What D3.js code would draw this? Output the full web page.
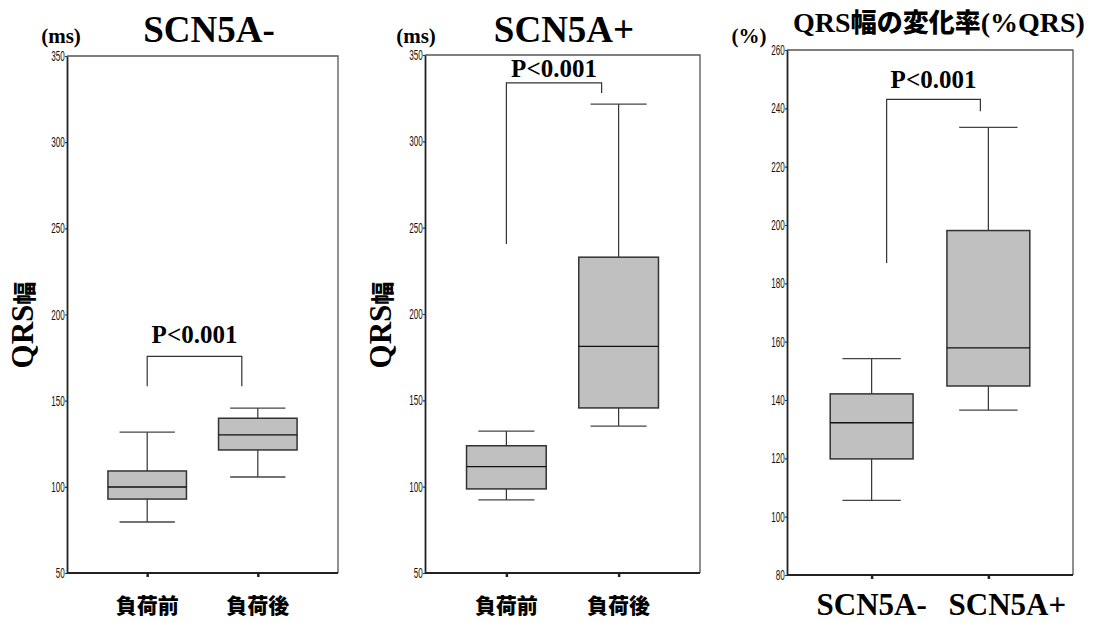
<!DOCTYPE html>
<html><head><meta charset="utf-8">
<script src="https://cdn.jsdelivr.net/npm/d3@7"></script>
<style>
html,body{margin:0;padding:0;background:#fff;}
svg{display:block;}
</style></head>
<body>
<svg id="chart" width="1098" height="623"></svg>
<script>
// ---------- data ----------
const loadCategories = ["負荷前", "負荷後"];
const geneCategories = ["SCN5A-", "SCN5A+"];
// five-number summaries: [lower whisker, Q1, median, Q3, upper whisker]
const qrsSCN5Aneg = [[79.6, 92.9, 99.9, 109.2, 131.8], [105.7, 121.4, 130.1, 139.8, 145.7]];
const qrsSCN5Apos = [[92.3, 98.7, 111.6, 123.7, 132.2], [135.1, 145.6, 181.3, 232.9, 321.6]];
const pctQRS      = [[105.6, 119.8, 132.2, 142.1, 154.2], [136.5, 144.8, 157.9, 198.1, 233.5]];
const msTicks  = [50, 100, 150, 200, 250, 300, 350];
const pctTicks = [80, 100, 120, 140, 160, 180, 200, 220, 240, 260];
// significance brackets: [bar value, left leg end value, right leg end value]
const bracketNeg = [175.7, 158.3, 158.3];
const bracketPos = [333.8, 240.6, 328.0];
const bracketPct = [243.1, 187.0, 239.0];
const pText = "P<0.001";

// ---------- layout ----------
const SERIF = "'Liberation Serif','Times New Roman',serif";
const CJK = "'Noto Sans CJK JP','Noto Sans CJK SC',sans-serif";
const SANS = "'Liberation Sans',Arial,sans-serif";

const panels = [
  { left: 67, right: 338, top: 56, bottom: 573, domain: [50, 350], ticks: msTicks,
    data: qrsSCN5Aneg, cats: loadCategories, catKind: "cjk",
    unit: "(ms)", unitX: 61, title: "SCN5A-", titleX: 209, ylabelX: 33,
    bracket: bracketNeg, bdxL: 0, bdxR: -16, pDy: -13 },
  { left: 425, right: 700, top: 55, bottom: 573, domain: [50, 350], ticks: msTicks,
    data: qrsSCN5Apos, cats: loadCategories, catKind: "cjk",
    unit: "(ms)", unitX: 416, title: "SCN5A+", titleX: 564, ylabelX: 391,
    bracket: bracketPos, bdxL: 0, bdxR: -17, pDy: -6 },
  { left: 787, right: 1073, top: 50, bottom: 575, domain: [80, 260], ticks: pctTicks,
    data: pctQRS, cats: geneCategories, catKind: "serif",
    unit: "(%)", unitX: 749, title: null, titleX: 939, ylabelX: null,
    bracket: bracketPct, bdxL: 15, bdxR: -8, pDy: -11 }
];

const svg = d3.select("#chart");

panels.forEach((p, pi) => {
  const g = svg.append("g");
  const x = d3.scalePoint().domain(p.cats).range([p.left, p.right]).padding(0.725);
  const y = d3.scaleLinear().domain(p.domain).range([p.bottom, p.top]);
  const step = x.step();
  const boxW = step * 0.71, capW = step * 0.5;

  // frame (top & right)
  g.append("path")
    .attr("d", `M${p.left},${p.top}H${p.right}V${p.bottom}`)
    .attr("fill", "none").attr("stroke", "#555").attr("stroke-width", 1.3);

  // y axis
  const ya = g.append("g").attr("transform", `translate(${p.left},0)`)
    .call(d3.axisLeft(y).tickValues(p.ticks).tickSizeInner(2).tickSizeOuter(0).tickPadding(2));
  ya.select(".domain").attr("stroke", "#222").attr("stroke-width", 1.8);
  ya.selectAll(".tick line").attr("stroke", "#333").attr("stroke-width", 1.2);
  ya.selectAll(".tick text").attr("font-family", SANS).attr("font-size", 14.5)
    .attr("fill", "#111").attr("transform", "scale(0.56,1)");

  // x axis
  const xa = g.append("g").attr("transform", `translate(0,${p.bottom})`)
    .call(d3.axisBottom(x).tickSizeInner(4).tickSizeOuter(0).tickFormat(""));
  xa.select(".domain").attr("stroke", "#222").attr("stroke-width", 1.8)
    .attr("d", `M${p.left},0H${p.right}`);
  xa.selectAll(".tick line").attr("stroke", "#222").attr("stroke-width", 2.5);

  // boxes
  const bx = g.selectAll("g.box").data(p.data).join("g").attr("class", "box");
  bx.each(function (d, i) {
    const s = d3.select(this);
    const cx = x(p.cats[i]);
    s.append("line").attr("x1", cx).attr("x2", cx).attr("y1", y(d[4])).attr("y2", y(d[3]))
      .attr("stroke", "#333").attr("stroke-width", 1.2);
    s.append("line").attr("x1", cx).attr("x2", cx).attr("y1", y(d[1])).attr("y2", y(d[0]))
      .attr("stroke", "#333").attr("stroke-width", 1.2);
    [d[0], d[4]].forEach(v => {
      s.append("line").attr("x1", cx - capW / 2).attr("x2", cx + capW / 2)
        .attr("y1", y(v)).attr("y2", y(v)).attr("stroke", "#444").attr("stroke-width", 1.3);
    });
    s.append("rect").attr("x", cx - boxW / 2).attr("width", boxW)
      .attr("y", y(d[3])).attr("height", y(d[1]) - y(d[3]))
      .attr("fill", "#c0c0c0").attr("stroke", "#333").attr("stroke-width", 1.5);
    s.append("line").attr("x1", cx - boxW / 2).attr("x2", cx + boxW / 2)
      .attr("y1", y(d[2])).attr("y2", y(d[2])).attr("stroke", "#111").attr("stroke-width", 1.3);
  });

  // significance bracket
  const b = p.bracket;
  const bl = x(p.cats[0]) + p.bdxL, br = x(p.cats[1]) + p.bdxR;
  g.append("path")
    .attr("d", `M${bl},${y(b[1])}V${y(b[0])}H${br}V${y(b[2])}`)
    .attr("fill", "none").attr("stroke", "#333").attr("stroke-width", 1.2);
  g.append("text").attr("x", (bl + br) / 2).attr("y", y(b[0]) + p.pDy)
    .attr("text-anchor", "middle").attr("font-family", SERIF).attr("font-weight", "bold")
    .attr("font-size", 25).attr("fill", "#000").text(pText);

  // unit label
  g.append("text").attr("x", p.unitX).attr("y", 43).attr("text-anchor", "middle")
    .attr("font-family", SERIF).attr("font-weight", "bold").attr("font-size", 21)
    .text(p.unit);

  // title
  if (p.title) {
    g.append("text").attr("x", p.titleX).attr("y", 42).attr("text-anchor", "middle")
      .attr("font-family", SERIF).attr("font-weight", "bold").attr("font-size", 37)
      .text(p.title);
  } else {
    const t = g.append("text").attr("x", p.titleX).attr("y", 32).attr("text-anchor", "middle")
      .attr("font-weight", "bold").attr("font-size", 28);
    t.append("tspan").attr("font-family", SERIF).text("QRS");
    t.append("tspan").attr("font-family", CJK).attr("font-weight", 900).attr("font-size", 26).text("幅の変化率");
    t.append("tspan").attr("font-family", SERIF).text("(%QRS)");
  }

  // y label
  if (p.ylabelX) {
    const t = g.append("text")
      .attr("transform", `translate(${p.ylabelX},325) rotate(-90)`)
      .attr("text-anchor", "middle").attr("font-weight", "bold");
    t.append("tspan").attr("font-family", SERIF).attr("font-size", 31).text("QRS");
    t.append("tspan").attr("font-family", CJK).attr("font-weight", 900).attr("font-size", 23).text("幅");
  }

  // category labels
  p.cats.forEach((c, i) => {
    const t = g.append("text").attr("text-anchor", "middle").attr("font-weight", "bold").text(c);
    if (p.catKind === "cjk") {
      t.attr("x", x(c)).attr("y", 613).attr("font-family", CJK).attr("font-weight", 900)
        .attr("font-size", 21);
    } else {
      t.attr("x", x(c) + (i === 1 ? 19 : 0)).attr("y", 615).attr("font-family", SERIF)
        .attr("font-size", 31);
    }
  });
});
</script>
</body></html>
